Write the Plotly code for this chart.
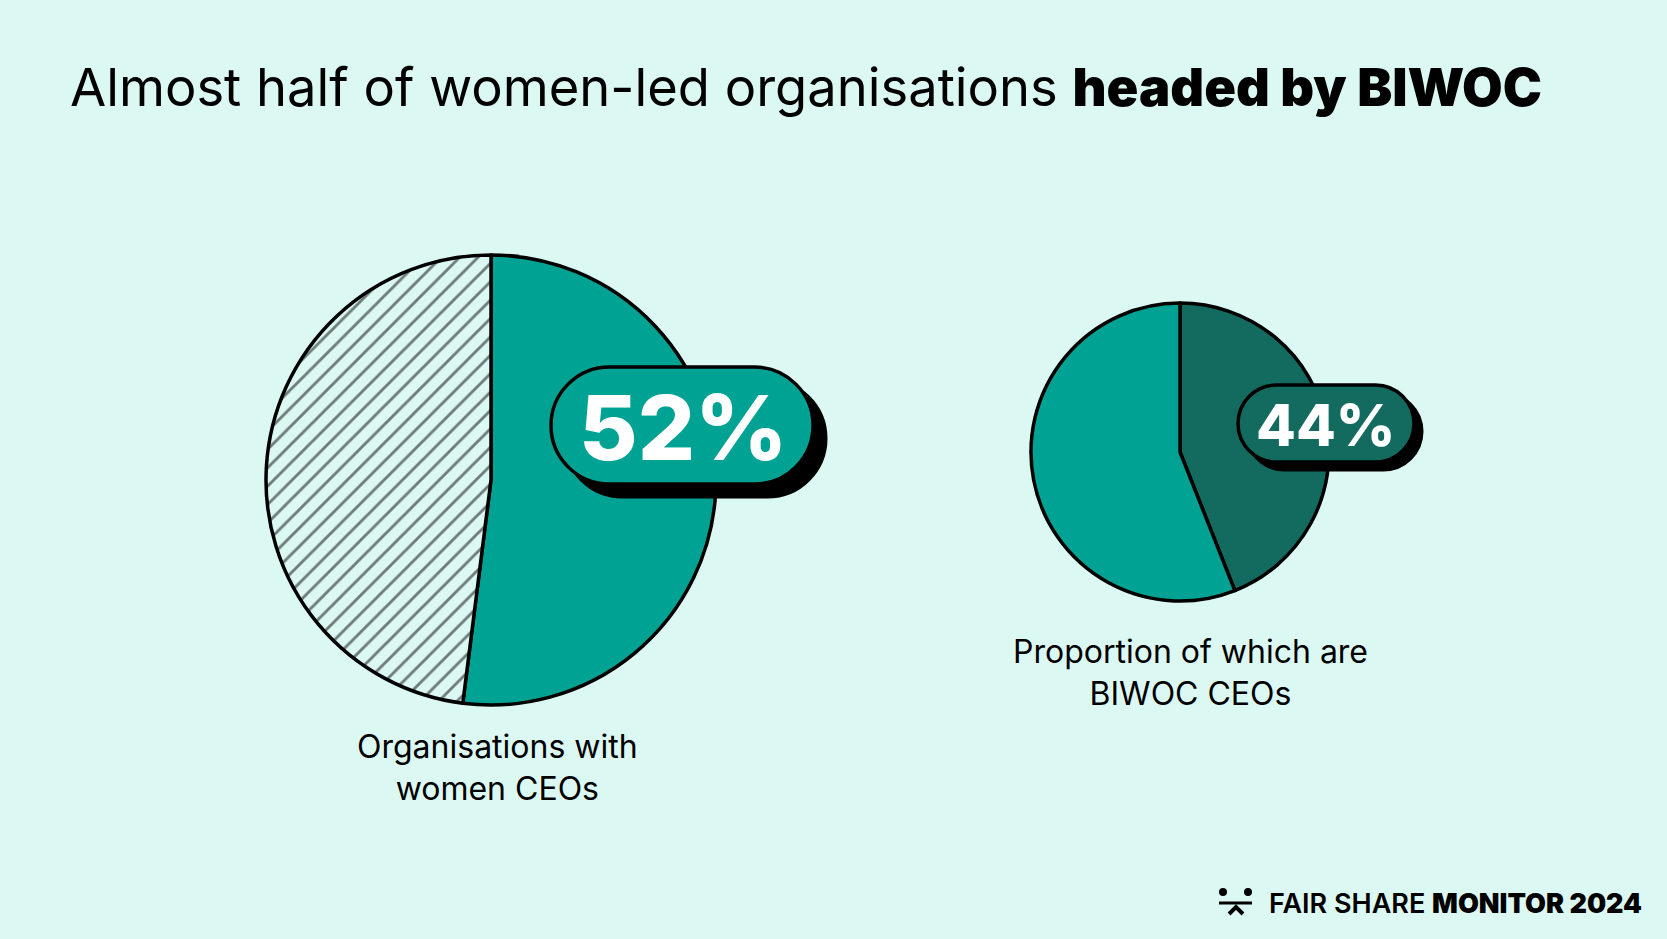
import plotly.graph_objects as go

# chart data
women_labels = ["Women CEOs", "Other CEOs"]
women_values = [52, 48]
biwoc_labels = ["BIWOC CEOs", "Other women CEOs"]
biwoc_values = [44, 56]
captions = ["Organisations with<br>women CEOs", "Proportion of which are<br>BIWOC CEOs"]

W, H = 1667, 939
BG = "#DCF8F2"
TEAL = "#00A293"
DARK = "#136B5F"
FONT = "Inter"


def pill(x0, y0, x1, y1):
    # rounded "pill" outline as an svg path (arcs drawn with bezier curves)
    r = (y1 - y0) / 2
    k = 0.5523 * r
    ym = (y0 + y1) / 2
    return (f"M {x0 + r},{y0} L {x1 - r},{y0} "
            f"C {x1 - r + k},{y0} {x1},{ym - k} {x1},{ym} "
            f"C {x1},{ym + k} {x1 - r + k},{y1} {x1 - r},{y1} "
            f"L {x0 + r},{y1} "
            f"C {x0 + r - k},{y1} {x0},{ym + k} {x0},{ym} "
            f"C {x0},{ym - k} {x0 + r - k},{y0} {x0 + r},{y0} Z")


def pie_domain(cx, cy, r):
    return dict(x=[(cx - r) / W, (cx + r) / W], y=[(H - cy - r) / H, (H - cy + r) / H])


def heavy(s, w=800):
    return f'<span style="font-weight:{w}">{s}</span>'


fig = go.Figure()

# big pie - organisations with women CEOs
fig.add_trace(go.Pie(
    labels=women_labels, values=women_values, sort=False, direction="clockwise",
    domain=pie_domain(491, 480, 225),
    marker=dict(colors=[TEAL, BG], line=dict(color="black", width=3.5),
                pattern=dict(shape=["", "/"], fgcolor="black", bgcolor=[TEAL, BG],
                             size=13, solidity=0.22, fillmode="overlay")),
    textinfo="none", hoverinfo="label+percent", showlegend=False,
))

# small pie - of which BIWOC
fig.add_trace(go.Pie(
    labels=biwoc_labels, values=biwoc_values, sort=False, direction="clockwise",
    domain=pie_domain(1180, 452, 149),
    marker=dict(colors=[DARK, TEAL], line=dict(color="black", width=3.5)),
    textinfo="none", hoverinfo="label+percent", showlegend=False,
))

shapes = []
# pill labels with drop shadow
for (x0, y0, x1, y1, off, fill) in [(551, 367, 813, 484, 13, TEAL), (1238, 385, 1414, 462, 8, DARK)]:
    shapes.append(dict(type="path", xref="x", yref="y", path=pill(x0 + off, y0 + off, x1 + off, y1 + off),
                       fillcolor="black", line=dict(color="black", width=3), layer="above"))
    shapes.append(dict(type="path", xref="x", yref="y", path=pill(x0, y0, x1, y1),
                       fillcolor=fill, line=dict(color="black", width=3.5), layer="above"))

# little logo next to the footer
shapes += [
    dict(type="circle", xref="x", yref="y", x0=1219, x1=1227, y0=888, y1=896, fillcolor="black", line_width=0),
    dict(type="circle", xref="x", yref="y", x0=1244, x1=1252, y0=888, y1=896, fillcolor="black", line_width=0),
    dict(type="line", xref="x", yref="y", x0=1219, x1=1252, y0=903, y1=903, line=dict(color="black", width=3)),
    dict(type="path", xref="x", yref="y", path="M 1229,914 L 1236,907 L 1243,914",
         line=dict(color="black", width=4)),
]

annotations = [
    dict(x=68, y=87, xanchor="left", yanchor="middle",
         text="Almost half of women-led organisations " + heavy("headed by BIWOC", 900),
         font=dict(size=52.5, color="black", family=FONT)),
    dict(x=683, y=427, text=heavy(f"{women_values[0]}%", 800),
         font=dict(size=90, color="white", family=FONT)),
    dict(x=1326, y=425, text=heavy(f"{biwoc_values[0]}%", 800),
         font=dict(size=58, color="white", family=FONT)),
    dict(x=497, y=767, text=captions[0], align="center",
         font=dict(size=32, color="black", family=FONT)),
    dict(x=1190, y=672, text=captions[1], align="center",
         font=dict(size=32, color="black", family=FONT)),
    dict(x=1644, y=903, xanchor="right", yanchor="middle",
         text=heavy("FAIR SHARE ", 600) + heavy("MONITOR 2024", 900),
         font=dict(size=27, color="black", family=FONT)),
]
for a in annotations:
    a.update(xref="x", yref="y", showarrow=False)

fig.update_layout(
    width=W, height=H, autosize=False,
    margin=dict(l=0, r=0, t=0, b=0),
    paper_bgcolor=BG, plot_bgcolor=BG,
    xaxis=dict(range=[0, W], visible=False, fixedrange=True),
    yaxis=dict(range=[H, 0], visible=False, fixedrange=True),
    shapes=shapes, annotations=annotations,
)

fig.write_html("out.html", config={"displayModeBar": False},
               post_script="document.body.style.margin='0';document.body.style.overflow='hidden';")
